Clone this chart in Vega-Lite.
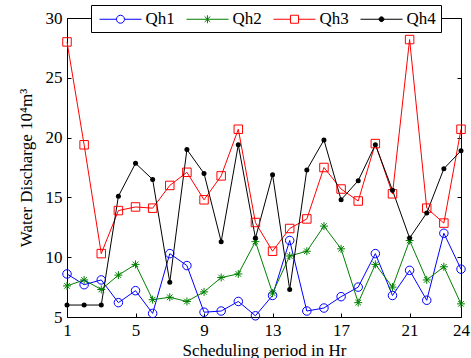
{
  "$schema": "https://vega.github.io/schema/vega-lite/v6.json",
  "width": 394,
  "height": 299,
  "autosize": "none",
  "padding": {"left": 67, "top": 18, "right": 10, "bottom": 41},
  "background": "white",
  "config": {
    "view": {"stroke": "black", "strokeWidth": 1},
    "font": "Liberation Serif",
    "axis": {
      "grid": false,
      "domain": false,
      "tickSize": 4,
      "offset": -4,
      "tickColor": "black",
      "tickWidth": 1,
      "labelFont": "Liberation Serif",
      "labelFontSize": 17,
      "labelColor": "black",
      "labelFlush": false,
      "labelOverlap": false,
      "labelBound": false,
      "titleFont": "Liberation Serif",
      "titleFontSize": 17,
      "titleFontWeight": "normal",
      "titleColor": "black"
    },
    "legend": {
      "title": null, "orient": "none", "legendX": 24, "legendY": -13, "direction": "horizontal", "columns": 4,
      "padding": 4.5, "strokeColor": "black", "fillColor": "white", "symbolSize": 324, "symbolStrokeWidth": 1,
      "labelOffset": 31, "columnPadding": 7, "labelFont": "Liberation Serif", "labelFontSize": 17, "labelColor": "black"
    }
  },
  "data": {"values": [
    {"t":1,"s":"Qh1","v":8.6},{"t":2,"s":"Qh1","v":7.7},{"t":3,"s":"Qh1","v":8.1},{"t":4,"s":"Qh1","v":6.2},{"t":5,"s":"Qh1","v":7.2},{"t":6,"s":"Qh1","v":5.3},{"t":7,"s":"Qh1","v":10.3},{"t":8,"s":"Qh1","v":9.3},{"t":9,"s":"Qh1","v":5.4},{"t":10,"s":"Qh1","v":5.5},{"t":11,"s":"Qh1","v":6.3},{"t":12,"s":"Qh1","v":5.1},{"t":13,"s":"Qh1","v":6.8},{"t":14,"s":"Qh1","v":11.4},{"t":15,"s":"Qh1","v":5.5},{"t":16,"s":"Qh1","v":5.75},{"t":17,"s":"Qh1","v":6.7},{"t":18,"s":"Qh1","v":7.5},{"t":19,"s":"Qh1","v":10.3},{"t":20,"s":"Qh1","v":6.8},{"t":21,"s":"Qh1","v":8.9},{"t":22,"s":"Qh1","v":6.4},{"t":23,"s":"Qh1","v":12.0},{"t":24,"s":"Qh1","v":9.0},
    {"t":1,"s":"Qh2","v":7.6},{"t":2,"s":"Qh2","v":8.1},{"t":3,"s":"Qh2","v":7.3},{"t":4,"s":"Qh2","v":8.5},{"t":5,"s":"Qh2","v":9.4},{"t":6,"s":"Qh2","v":6.45},{"t":7,"s":"Qh2","v":6.65},{"t":8,"s":"Qh2","v":6.3},{"t":9,"s":"Qh2","v":7.1},{"t":10,"s":"Qh2","v":8.3},{"t":11,"s":"Qh2","v":8.6},{"t":12,"s":"Qh2","v":11.3},{"t":13,"s":"Qh2","v":7.0},{"t":14,"s":"Qh2","v":10.1},{"t":15,"s":"Qh2","v":10.5},{"t":16,"s":"Qh2","v":12.6},{"t":17,"s":"Qh2","v":10.7},{"t":18,"s":"Qh2","v":6.2},{"t":19,"s":"Qh2","v":9.4},{"t":20,"s":"Qh2","v":7.5},{"t":21,"s":"Qh2","v":11.4},{"t":22,"s":"Qh2","v":8.1},{"t":23,"s":"Qh2","v":9.2},{"t":24,"s":"Qh2","v":6.1},
    {"t":1,"s":"Qh3","v":28.0},{"t":2,"s":"Qh3","v":19.4},{"t":3,"s":"Qh3","v":10.3},{"t":4,"s":"Qh3","v":13.9},{"t":5,"s":"Qh3","v":14.2},{"t":6,"s":"Qh3","v":14.1},{"t":7,"s":"Qh3","v":16.0},{"t":8,"s":"Qh3","v":17.1},{"t":9,"s":"Qh3","v":14.8},{"t":10,"s":"Qh3","v":16.8},{"t":11,"s":"Qh3","v":20.7},{"t":12,"s":"Qh3","v":12.9},{"t":13,"s":"Qh3","v":10.5},{"t":14,"s":"Qh3","v":12.4},{"t":15,"s":"Qh3","v":13.2},{"t":16,"s":"Qh3","v":17.5},{"t":17,"s":"Qh3","v":15.7},{"t":18,"s":"Qh3","v":14.7},{"t":19,"s":"Qh3","v":19.5},{"t":20,"s":"Qh3","v":15.3},{"t":21,"s":"Qh3","v":28.2},{"t":22,"s":"Qh3","v":14.1},{"t":23,"s":"Qh3","v":12.85},{"t":24,"s":"Qh3","v":20.7},
    {"t":1,"s":"Qh4","v":6.0},{"t":2,"s":"Qh4","v":6.0},{"t":3,"s":"Qh4","v":6.0},{"t":4,"s":"Qh4","v":15.1},{"t":5,"s":"Qh4","v":17.85},{"t":6,"s":"Qh4","v":16.5},{"t":7,"s":"Qh4","v":7.9},{"t":8,"s":"Qh4","v":19.0},{"t":9,"s":"Qh4","v":17.0},{"t":10,"s":"Qh4","v":11.3},{"t":11,"s":"Qh4","v":19.4},{"t":12,"s":"Qh4","v":11.6},{"t":13,"s":"Qh4","v":16.9},{"t":14,"s":"Qh4","v":7.3},{"t":15,"s":"Qh4","v":17.3},{"t":16,"s":"Qh4","v":19.8},{"t":17,"s":"Qh4","v":14.8},{"t":18,"s":"Qh4","v":16.4},{"t":19,"s":"Qh4","v":19.4},{"t":20,"s":"Qh4","v":15.6},{"t":21,"s":"Qh4","v":11.6},{"t":22,"s":"Qh4","v":13.7},{"t":23,"s":"Qh4","v":17.4},{"t":24,"s":"Qh4","v":18.9}
  ]},
  "layer": [
    {
      "mark": {"type": "line", "strokeWidth": 1, "clip": false},
      "encoding": {
        "x": {"field": "t", "type": "quantitative",
              "scale": {"domain": [1, 24], "nice": false, "zero": false},
              "axis": {"orient": "bottom", "values": [1, 5, 9, 13, 17, 21, 24], "title": "Scheduling period in Hr", "labelPadding": 5, "titlePadding": 4}},
        "y": {"field": "v", "type": "quantitative",
              "scale": {"domain": [5, 30], "nice": false, "zero": false},
              "axis": {"orient": "left", "values": [5, 10, 15, 20, 25, 30], "title": "Water Discharge 10⁴m³", "labelPadding": 5, "titlePadding": 10}},
        "color": {"field": "s", "type": "nominal",
                  "scale": {"domain": ["Qh4", "Qh3", "Qh2", "Qh1"], "range": ["#000000", "#ff0000", "#008000", "#0000ff"]},
                  "legend": null}
      }
    },
    {
      "transform": [{"filter": "datum.s === 'Qh1'"}],
      "mark": {"type": "point", "filled": false, "strokeWidth": 1, "size": 72, "shape": "circle", "color": "#0000ff", "opacity": 1},
      "encoding": {
        "x": {"field": "t", "type": "quantitative",
              "axis": {"orient": "top", "values": [1, 5, 9, 13, 17, 21, 24], "labels": false, "title": null}},
        "y": {"field": "v", "type": "quantitative",
              "axis": {"orient": "right", "values": [5, 10, 15, 20, 25, 30], "labels": false, "title": null}}
      }
    },
    {
      "transform": [{"filter": "datum.s === 'Qh2'"}],
      "mark": {"type": "point", "filled": false, "strokeWidth": 1, "size": 64, "shape": "M-1,0H1M0,-1V1M-0.7,-0.7L0.7,0.7M-0.7,0.7L0.7,-0.7", "color": "#008000", "opacity": 1},
      "encoding": {
        "x": {"field": "t", "type": "quantitative", "axis": null},
        "y": {"field": "v", "type": "quantitative", "axis": null}
      }
    },
    {
      "transform": [{"filter": "datum.s === 'Qh3'"}],
      "mark": {"type": "point", "filled": false, "strokeWidth": 1, "size": 72, "shape": "square", "color": "#ff0000", "opacity": 1},
      "encoding": {
        "x": {"field": "t", "type": "quantitative", "axis": null},
        "y": {"field": "v", "type": "quantitative", "axis": null}
      }
    },
    {
      "transform": [{"filter": "datum.s === 'Qh4'"}],
      "mark": {"type": "point", "filled": true, "shape": "circle", "size": 25, "color": "black", "opacity": 1},
      "encoding": {
        "x": {"field": "t", "type": "quantitative", "axis": null},
        "y": {"field": "v", "type": "quantitative", "axis": null}
      }
    },
    {
      "transform": [{"filter": "datum.t === 1"}],
      "mark": {"type": "point", "filled": true, "size": 324, "strokeWidth": 1, "fillOpacity": 0, "strokeOpacity": 0},
      "encoding": {
        "x": {"field": "t", "type": "quantitative", "axis": null},
        "y": {"field": "v", "type": "quantitative", "axis": null},
        "stroke": {"field": "s", "type": "nominal",
                   "scale": {"domain": ["Qh1", "Qh2", "Qh3", "Qh4"], "range": ["#0000ff", "#008000", "#ff0000", "#000000"]},
                   "legend": {"title": null, "encode": {"symbols": {"update": {"fillOpacity": {"value": 1}, "strokeOpacity": {"value": 1}, "opacity": {"value": 1}}}}}},
        "fill": {"field": "s", "type": "nominal",
                 "scale": {"domain": ["Qh1", "Qh2", "Qh3", "Qh4"], "range": ["white", "white", "white", "black"]},
                 "legend": {"title": null, "encode": {"symbols": {"update": {"fillOpacity": {"value": 1}, "strokeOpacity": {"value": 1}, "opacity": {"value": 1}}}}}},
        "shape": {"field": "s", "type": "nominal",
                  "scale": {"domain": ["Qh1", "Qh2", "Qh3", "Qh4"],
                            "range": [
                              "M-0.61,0H1.276M2.164,0H4.06M2.164,0A0.444,0.444,0,1,1,1.276,0A0.444,0.444,0,1,1,2.164,0Z",
                              "M-0.61,0H4.06M1.72,-0.444V0.444M1.406,-0.314L2.034,0.314M1.406,0.314L2.034,-0.314",
                              "M-0.61,0H1.276M2.164,0H4.06M1.276,-0.444H2.164V0.444H1.276Z",
                              "M-0.61,0H4.06M1.987,0A0.267,0.267,0,1,1,1.453,0A0.267,0.267,0,1,1,1.987,0Z"
                            ]},
                  "legend": {"title": null, "encode": {"symbols": {"update": {"fillOpacity": {"value": 1}, "strokeOpacity": {"value": 1}, "opacity": {"value": 1}}}}}}
      }
    }
  ],
  "resolve": {
    "axis": {"x": "independent", "y": "independent"}
  }
}
